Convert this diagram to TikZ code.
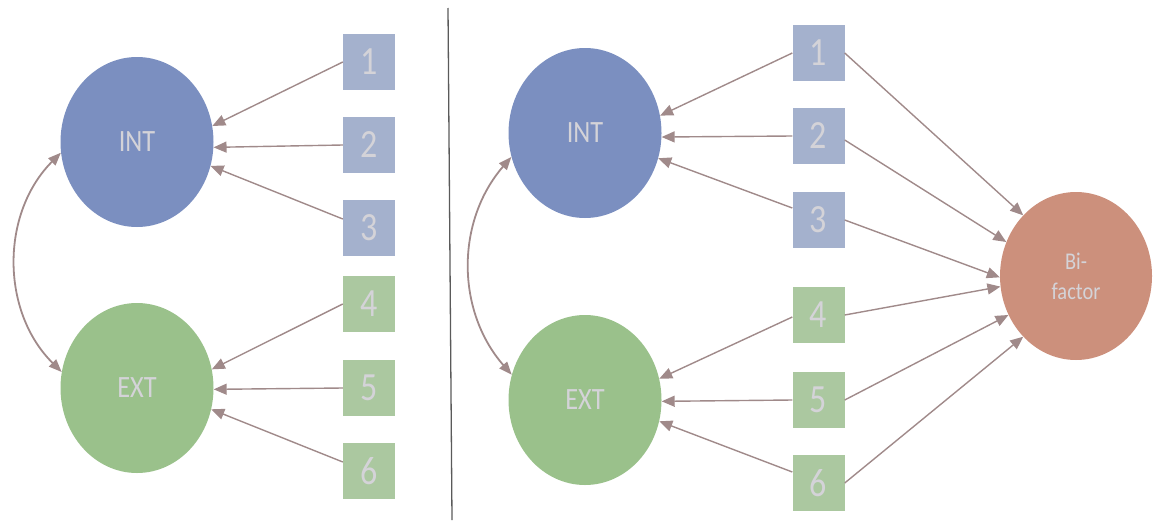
\documentclass[tikz,border=0pt]{standalone}
\usepackage{fontspec}
\setmainfont{Carlito}[FakeStretch=0.85]
\usetikzlibrary{shapes.geometric,arrows.meta}
\definecolor{intc}{HTML}{7B8FC0}
\definecolor{extc}{HTML}{9AC18B}
\definecolor{boxb}{HTML}{A4B1CD}
\definecolor{boxg}{HTML}{ABC8A0}
\definecolor{bifc}{HTML}{CC907C}
\definecolor{txtc}{HTML}{D4D3D8}
\definecolor{arrc}{HTML}{A08A8A}
\definecolor{divc}{HTML}{5A5A5A}
\tikzset{
  latent/.style={ellipse, minimum width=153pt, minimum height=170pt, inner sep=0pt, text=txtc, font=\fontsize{31}{34}\selectfont},
  bifbox/.style={ellipse, minimum width=152pt, minimum height=168pt, inner sep=0pt, text=txtc, fill=bifc, align=center, font=\fontsize{24}{30}\selectfont},
  item/.style={rectangle, minimum width=52pt, minimum height=56pt, inner sep=0pt, text=txtc, font=\fontsize{40}{40}\selectfont},
  load/.style={draw=arrc, line width=1.4pt, -{Triangle[length=13pt,width=11pt]}},
  cov/.style={draw=arrc, line width=1.8pt, {Triangle[length=13pt,width=10pt]}-{Triangle[length=13pt,width=10pt]}}
}
\begin{document}
\begin{tikzpicture}[x=1pt,y=-1pt]
\useasboundingbox (0,0) rectangle (1155,522);
% left panel
\node[latent, fill=intc] (li) at (137,142) {INT};
\node[latent, fill=extc] (le) at (137,388) {EXT};
\node[item, fill=boxb] (l1) at (369,62) {1};
\node[item, fill=boxb] (l2) at (369,145) {2};
\node[item, fill=boxb] (l3) at (369,228) {3};
\node[item, fill=boxg] (l4) at (369,304) {4};
\node[item, fill=boxg] (l5) at (369,388) {5};
\node[item, fill=boxg] (l6) at (369,471) {6};
\draw[load] (l1.west) -- (li.12);
\draw[load] (l2.west) -- (li.-4);
\draw[load] ([yshift=9pt]l3.west) -- (li.-18);
\draw[load] (l4.west) -- (le.14);
\draw[load] (l5.west) -- (le.-1.5);
\draw[load] ([yshift=9pt]l6.west) -- (le.-16);
\draw[cov] (li.188) to[bend right=45] (le.168);
% divider
\coordinate (dtop) at (448,8);
\coordinate (dbot) at (452,520);
\draw[divc, line width=1.3pt] (dtop) -- (dbot);
% right panel
\node[latent, fill=intc] (ri) at (585,133) {INT};
\node[latent, fill=extc] (re) at (585,400) {EXT};
\node[bifbox] (bf) at (1076,276) {Bi-\\factor};
\node[item, fill=boxb] (r1) at (818.5,53) {1};
\node[item, fill=boxb] (r2) at (818.5,136) {2};
\node[item, fill=boxb] (r3) at (818.5,220) {3};
\node[item, fill=boxg] (r4) at (818.5,315) {4};
\node[item, fill=boxg] (r5) at (818.5,400) {5};
\node[item, fill=boxg] (r6) at (818.5,483) {6};
\draw[load] (r1.west) -- (ri.13);
\draw[load] (r2.west) -- (ri.-3.7);
\draw[load] ([yshift=12pt]r3.west) -- (ri.-19);
\draw[load] ([yshift=-2pt]r4.west) -- (re.16);
\draw[load] (r5.west) -- (re.-1.5);
\draw[load] ([yshift=11pt]r6.west) -- (re.-16);
\draw[cov] (ri.198) to[bend right=41] (re.161);
\draw[load] (r1.east) -- (bf.131.6);
\draw[load] ([yshift=-4pt]r2.east) -- (bf.154);
\draw[load] (r3.east) -- (bf.181);
\draw[load] (r4.east) -- (bf.188);
\draw[load] (r5.east) -- (bf.210);
\draw[load] (r6.east) -- (bf.229);
\end{tikzpicture}
\end{document}
